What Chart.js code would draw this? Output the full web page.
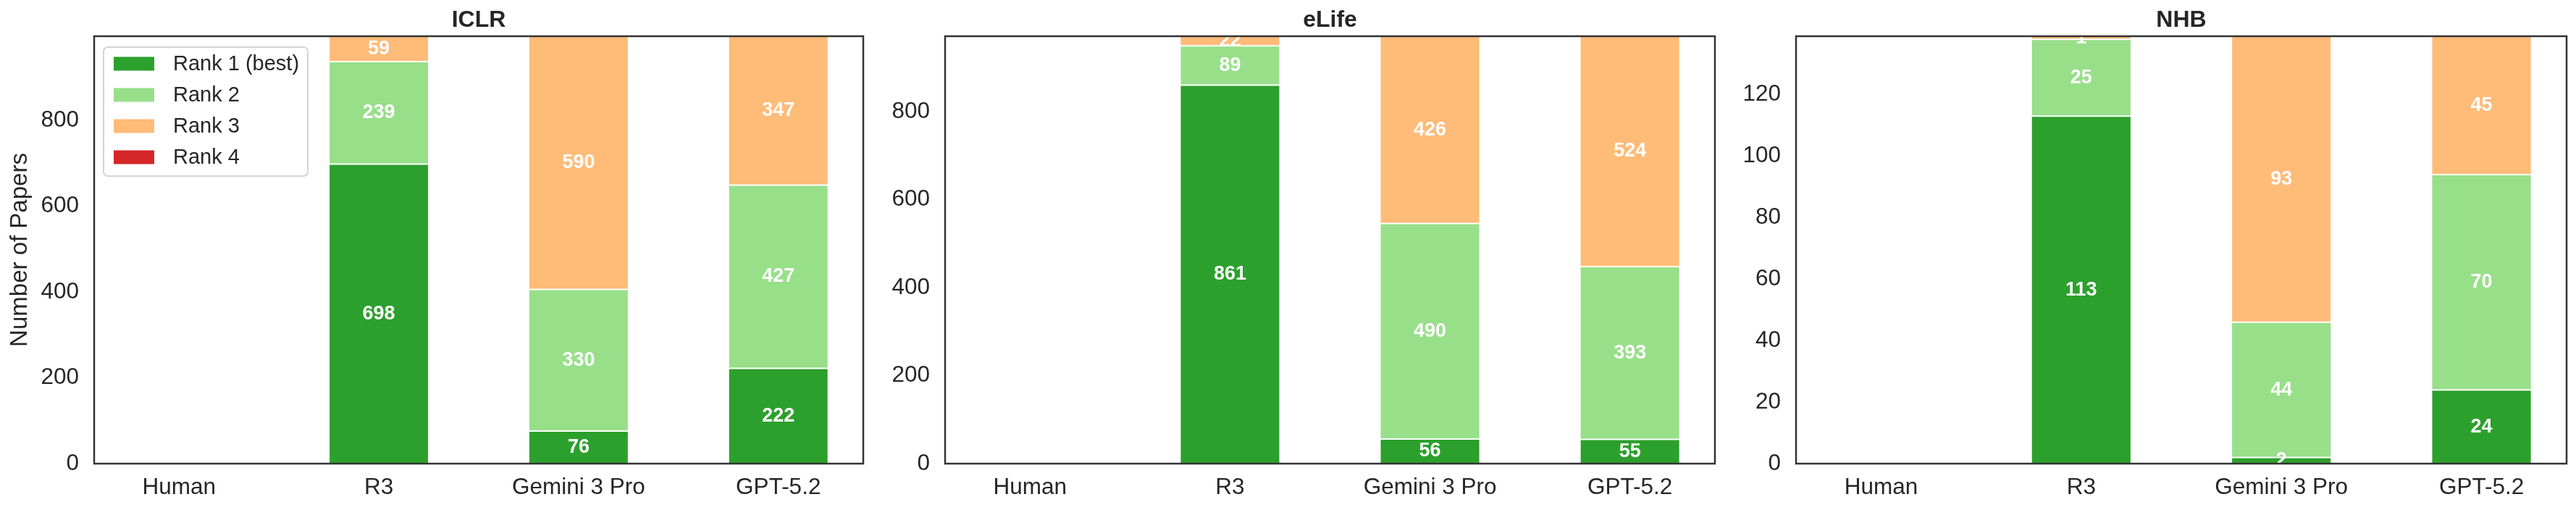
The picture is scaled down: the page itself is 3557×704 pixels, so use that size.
<!DOCTYPE html>
<html>
<head>
<meta charset="utf-8">
<script src="https://cdn.jsdelivr.net/npm/chart.js@4.4.0/dist/chart.umd.min.js"></script>
<style>
  html, body { margin: 0; padding: 0; background: #fff; }
  body { width: 3557px; height: 704px; position: relative; overflow: hidden; }
  canvas { position: absolute; top: 0; }
</style>
</head>
<body>
<canvas id="iclr"></canvas>
<canvas id="elife"></canvas>
<canvas id="nhb"></canvas>
<script>
const models = ['Human', 'R3', 'Gemini 3 Pro', 'GPT-5.2'];
const rankNames = ['Rank 1 (best)', 'Rank 2', 'Rank 3', 'Rank 4'];
const rankColors = ['#2ca02c', '#98df8a', '#ffbb78', '#d62728'];

// number of papers per rank, one value per model (no Human bars)
const iclrRank1 = [0, 698, 76, 222];
const iclrRank2 = [0, 239, 330, 427];
const iclrRank3 = [0, 59, 590, 347];
const iclrRank4 = [0, 0, 0, 0];

const elifeRank1 = [0, 861, 56, 55];
const elifeRank2 = [0, 89, 490, 393];
const elifeRank3 = [0, 22, 426, 524];
const elifeRank4 = [0, 0, 0, 0];

const nhbRank1 = [0, 113, 2, 24];
const nhbRank2 = [0, 25, 44, 70];
const nhbRank3 = [0, 1, 93, 45];
const nhbRank4 = [0, 0, 0, 0];

Chart.defaults.font.family = '"Liberation Sans", Arial, sans-serif';
Chart.defaults.color = '#262626';

const INK = '#262626';

// titles, spines, in-bar counts and the legend box
const panelDeco = {
  id: 'panelDeco',
  afterDatasetsDraw(chart) {
    const ctx = chart.ctx;
    const a = chart.chartArea;
    ctx.save();
    ctx.beginPath();
    ctx.rect(a.left, a.top, a.right - a.left, a.bottom - a.top);
    ctx.clip();
    ctx.fillStyle = '#fff';
    ctx.font = 'bold 27px "Liberation Sans", Arial, sans-serif';
    ctx.textAlign = 'center';
    ctx.textBaseline = 'middle';
    chart.data.datasets.forEach((ds, d) => {
      const meta = chart.getDatasetMeta(d);
      meta.data.forEach((el, i) => {
        const v = ds.data[i].y;
        if (!v) return;
        ctx.fillText(String(v), el.x, (el.y + el.base) / 2);
      });
    });
    ctx.restore();
  },
  afterDraw(chart, args, opts) {
    const ctx = chart.ctx;
    const a = chart.chartArea;
    ctx.save();
    ctx.strokeStyle = '#333';
    ctx.lineWidth = 2.5;
    ctx.strokeRect(a.left, a.top, a.right - a.left, a.bottom - a.top);

    ctx.fillStyle = INK;
    ctx.font = 'bold 32px "Liberation Sans", Arial, sans-serif';
    ctx.textAlign = 'center';
    ctx.textBaseline = 'middle';
    ctx.fillText(opts.title, (a.left + a.right) / 2, 28);

    if (opts.legend) {
      const bx = a.left + 13, by = a.top + 15, bw = 282, bh = 178;
      ctx.beginPath();
      if (ctx.roundRect) ctx.roundRect(bx, by, bw, bh, 6); else ctx.rect(bx, by, bw, bh);
      ctx.fillStyle = 'rgba(255,255,255,0.85)';
      ctx.fill();
      ctx.strokeStyle = '#d4d4d4';
      ctx.lineWidth = 2;
      ctx.stroke();
      ctx.font = '29px "Liberation Sans", Arial, sans-serif';
      ctx.textAlign = 'left';
      chart.data.datasets.forEach((ds, d) => {
        const cy = by + 23 + 43 * d;
        ctx.fillStyle = ds.backgroundColor;
        ctx.fillRect(bx + 14, cy - 9.5, 56, 19);
        ctx.fillStyle = INK;
        ctx.fillText(ds.label, bx + 96, cy + 1);
      });
    }
    ctx.restore();
  }
};

function makePanel(id, title, ranks, step, left, plotLeft, plotRight, withLegend, yTitle) {
  const el = document.getElementById(id);
  el.width = plotRight - left + 10;
  el.height = 704;
  el.style.left = left + 'px';
  const yw = plotLeft - left;
  const totals = models.map((m, i) => ranks.reduce((s, r) => s + r[i], 0));
  const top = Math.max(...totals);

  return new Chart(el, {
    type: 'bar',
    data: {
      datasets: ranks.map((r, d) => ({
        label: rankNames[d],
        data: r.map((v, i) => ({ x: i, y: v })),
        backgroundColor: rankColors[d],
        borderColor: '#fff',
        borderWidth: 1,
        borderSkipped: false,
        categoryPercentage: 1,
        barPercentage: 0.5
      }))
    },
    options: {
      responsive: false,
      animation: false,
      devicePixelRatio: 1,
      layout: { padding: { top: 50, right: 10, left: 0, bottom: 0 } },
      plugins: {
        legend: { display: false },
        tooltip: { enabled: false },
        panelDeco: { title: title, legend: withLegend }
      },
      scales: {
        x: {
          type: 'linear',
          stacked: true,
          offset: false,
          min: -0.425,
          max: 3.425,
          grid: { display: false, drawTicks: false, offset: false },
          border: { display: false },
          afterBuildTicks: s => { s.ticks = models.map((m, i) => ({ value: i })); },
          afterFit: s => { s.height = 64; },
          ticks: {
            padding: 14,
            autoSkip: false,
            maxRotation: 0,
            color: INK,
            font: { size: 31.5 },
            callback: v => models[v]
          }
        },
        y: {
          stacked: true,
          min: 0,
          max: top,
          grid: { display: false, drawTicks: false },
          border: { display: false },
          afterFit: s => { s.width = yw; },
          afterBuildTicks: s => {
            const t = [];
            for (let v = 0; v <= top; v += step) t.push({ value: v });
            s.ticks = t;
          },
          ticks: {
            padding: 21,
            color: INK,
            font: { size: 31.5 }
          },
          title: {
            display: !!yTitle,
            text: yTitle || '',
            color: INK,
            font: { size: 33 },
            padding: { top: 8, bottom: 0 }
          }
        }
      }
    },
    plugins: [panelDeco]
  });
}

makePanel('iclr', 'ICLR', [iclrRank1, iclrRank2, iclrRank3, iclrRank4], 200, 0, 130, 1192, true, 'Number of Papers');
makePanel('elife', 'eLife', [elifeRank1, elifeRank2, elifeRank3, elifeRank4], 200, 1195, 1305, 2368, false, null);
makePanel('nhb', 'NHB', [nhbRank1, nhbRank2, nhbRank3, nhbRank4], 20, 2370, 2480, 3544, false, null);
</script>
</body>
</html>
